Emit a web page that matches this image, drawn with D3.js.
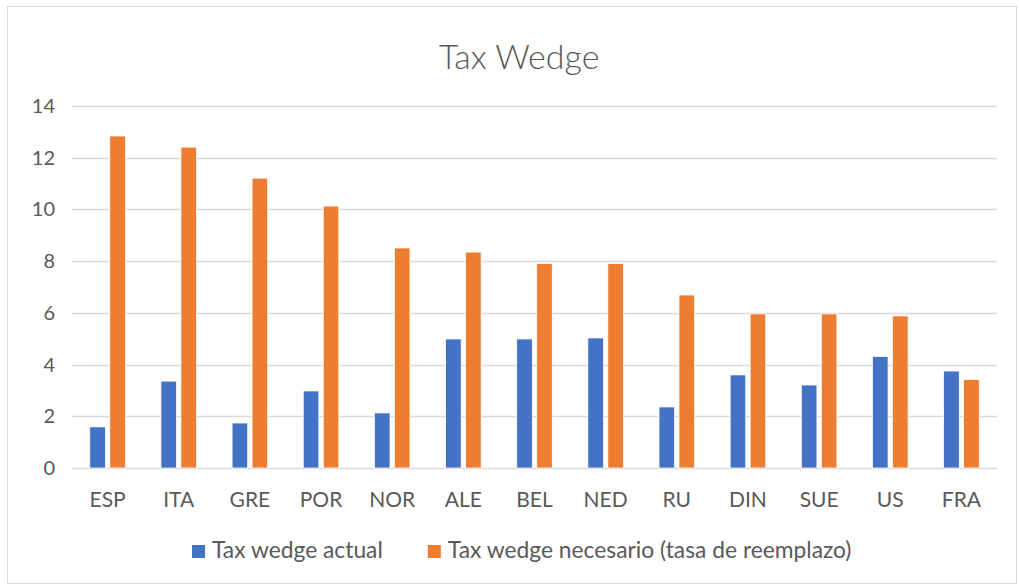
<!DOCTYPE html>
<html>
<head>
<meta charset="utf-8">
<script src="https://cdn.jsdelivr.net/npm/d3@7"></script>
<style>
  body { margin: 0; background: #fff; }
  text { font-family: "Lato", "Open Sans", sans-serif; fill: #595959; }
</style>
</head>
<body>
<div id="chart"></div>
<script>
var countries = ["ESP", "ITA", "GRE", "POR", "NOR", "ALE", "BEL", "NED", "RU", "DIN", "SUE", "US", "FRA"];
var actual = [1.59, 3.36, 1.74, 2.98, 2.13, 4.99, 4.99, 5.03, 2.36, 3.6, 3.21, 4.31, 3.75];
var necesario = [12.84, 12.41, 11.21, 10.13, 8.51, 8.35, 7.91, 7.91, 6.69, 5.96, 5.96, 5.88, 3.42];
var seriesNames = ["Tax wedge actual", "Tax wedge necesario (tasa de reemplazo)"];
var yTicks = [0, 2, 4, 6, 8, 10, 12, 14];

var W = 1019, H = 585;
var svg = d3.select("#chart").append("svg").attr("width", W).attr("height", H);

// chart frame
svg.append("rect")
    .attr("x", 7.5).attr("y", 6.5)
    .attr("width", 1009).attr("height", 577)
    .attr("fill", "#fff").attr("stroke", "#d9d9d9").attr("stroke-width", 1);

var plot = {left: 72, right: 997, top: 106, bottom: 468};

var rows = countries.map(function(c, i) {
  return {country: c, values: [actual[i], necesario[i]]};
});

var x0 = d3.scaleBand().domain(countries).range([plot.left, plot.right]).paddingInner(0.5).paddingOuter(0.25);
var x1 = d3.scaleBand().domain([0, 1]).range([0, x0.bandwidth()]).paddingInner(0.22);
var y = d3.scaleLinear().domain([0, 14]).range([plot.bottom, plot.top]);
var color = d3.scaleOrdinal().domain([0, 1]).range(["#4472C4", "#ED7D31"]);

// title
svg.append("text")
    .attr("x", 519).attr("y", 69)
    .attr("text-anchor", "middle")
    .attr("font-size", 34)
    .attr("font-weight", 300)
    .text("Tax Wedge");

// grid lines
svg.append("g").selectAll("line")
  .data(yTicks)
  .enter().append("line")
    .attr("x1", plot.left).attr("x2", plot.right)
    .attr("y1", function(d) { return Math.round(y(d)) + 0.5; })
    .attr("y2", function(d) { return Math.round(y(d)) + 0.5; })
    .attr("stroke", "#d9d9d9").attr("stroke-width", 1.3);

// y labels
svg.append("g").selectAll("text")
  .data(yTicks)
  .enter().append("text")
    .attr("x", 55)
    .attr("y", function(d) { return y(d); })
    .attr("dy", "0.35em")
    .attr("text-anchor", "end")
    .attr("font-size", 20)
    .text(function(d) { return d; });

// bars
svg.append("g").selectAll("g")
  .data(rows)
  .enter().append("g")
    .attr("transform", function(d) { return "translate(" + x0(d.country) + ",0)"; })
  .selectAll("rect")
  .data(function(d) { return d.values.map(function(v, k) { return {k: k, v: v}; }); })
  .enter().append("rect")
    .attr("x", function(d) { return x1(d.k); })
    .attr("y", function(d) { return y(d.v); })
    .attr("width", x1.bandwidth())
    .attr("height", function(d) { return y(0) - y(d.v); })
    .attr("fill", function(d) { return color(d.k); })
    .attr("stroke", "#fff").attr("stroke-width", 0.75);

// x labels
svg.append("g").selectAll("text")
  .data(countries)
  .enter().append("text")
    .attr("x", function(d) { return x0(d) + x0.bandwidth() / 2; })
    .attr("y", 507)
    .attr("text-anchor", "middle")
    .attr("font-size", 21)
    .text(function(d) { return d; });

// legend
var legend = svg.append("g");
var lx = 192;
seriesNames.forEach(function(name, k) {
  var item = legend.append("g").attr("transform", "translate(" + lx + ",0)");
  item.append("rect")
      .attr("x", 0).attr("y", 545)
      .attr("width", 13).attr("height", 13)
      .attr("fill", color(k));
  var t = item.append("text")
      .attr("x", 20).attr("y", 558)
      .attr("font-size", 22.8)
      .text(name);
  lx += 20 + t.node().getComputedTextLength() + 45;
});
</script>
</body>
</html>
